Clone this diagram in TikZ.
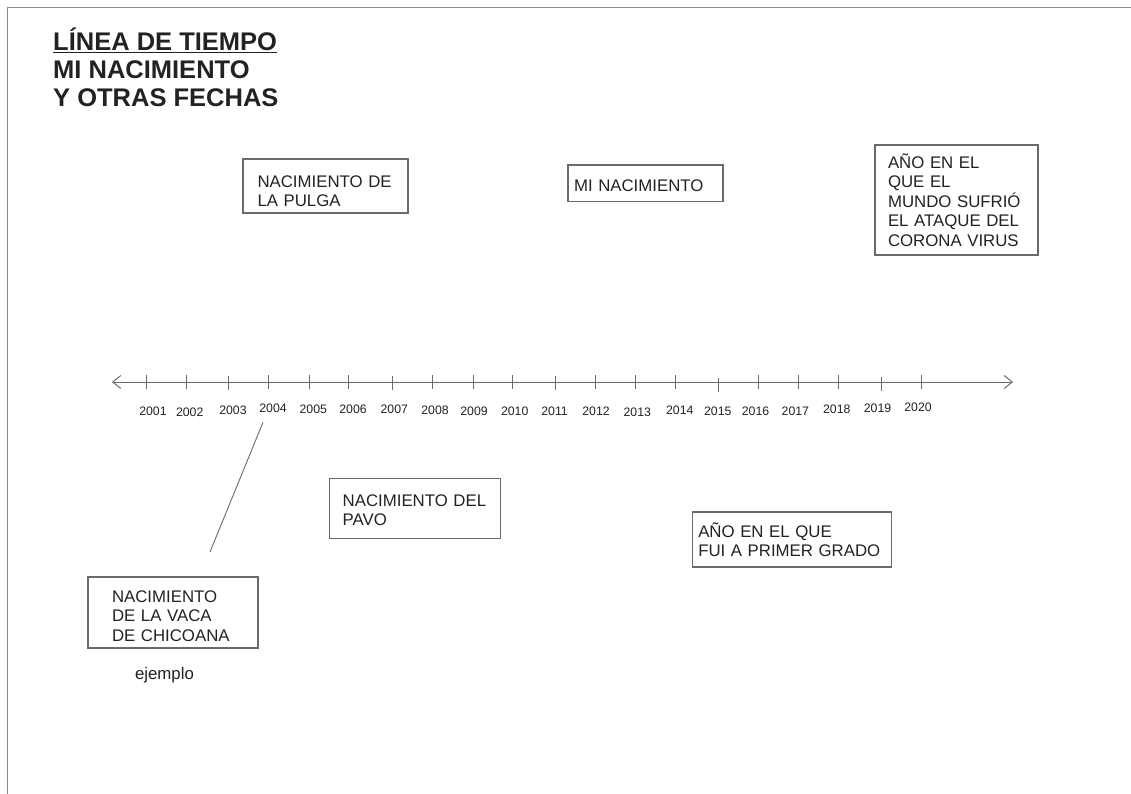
\documentclass[tikz,border=0pt]{standalone}
\usepackage{fontspec}
\setmainfont{Liberation Sans}
\usetikzlibrary{arrows.meta}

\definecolor{tinta}{HTML}{222222}
\definecolor{borde}{HTML}{6A6A6A}
\definecolor{marco}{HTML}{8A8A8A}

\newcommand{\subrayar}[1]{\setbox0=\hbox{#1}\rlap{\rule[-3.4pt]{\wd0}{1.5pt}}\box0}

\tikzset{
  caja/.style={draw=borde, line width=1.1pt, text=tinta, align=left, inner ysep=2pt,
    font=\fontsize{16.8}{19.5}\selectfont},
  bajar/.style={execute at begin node={\rule{0pt}{#1}}},
  anio/.style={text=tinta, inner sep=0pt, font=\fontsize{12.3}{14}\selectfont},
  marca/.style={draw=borde, line width=1pt},
  punta/.tip={Straight Barb[length=8pt,width=13pt]},
}

\begin{document}
\begin{tikzpicture}[x=1pt,y=-1pt]
\useasboundingbox (0,0) rectangle (1131,794);
% borde de la hoja
\draw[marco, line width=1.4pt] (1131,7.5) -- (7.5,7.5) -- (7.5,794);

% titulo (base = ultima linea)
\node (titulo) [anchor=base west, align=left, inner sep=0pt, text=tinta,
  font=\fontsize{25.5}{28.3}\bfseries] at (53,106.7)
  {\subrayar{LÍNEA DE TIEMPO}\\MI NACIMIENTO\\Y OTRAS FECHAS};

% linea de tiempo
\coordinate (ini) at (112,382);
\coordinate (fin) at (1013,382);
\draw[borde, line width=1pt, punta-punta] (ini) -- (fin);

% marcas y anios: x marca / x texto / y texto / bajada
\foreach \x/\xt/\yt/\d/\a in {
  146/153/411.7/0/2001, 186/189.7/412.5/0/2002, 228/233/410/1/2003,
  268/273/408.7/0/2004, 309/313.3/409.5/0/2005, 348/353/409/0/2006,
  392/394.3/408.8/1/2007, 432/435/410/0/2008, 473/474/411/0/2009,
  512/514.7/411/0/2010, 555/554.6/411.5/1/2011, 595/596/411/0/2012,
  635.5/637.3/412.5/0/2013, 675/679.8/410.5/0/2014, 718/717.8/411/3/2015,
  758.5/755.5/411/0/2016, 798/795.4/411.5/0/2017, 838.6/836.8/409/0/2018,
  881/877.5/408/2/2019, 921/918/407/0/2020}
{
  \draw[marca] (\x,375+\d) -- (\x,389+\d);
  \node (y\a) [anio] at (\xt,\yt) {\a};
}

% cajas de arriba
\node (pulga) [caja, bajar=22pt, text width=136pt, inner xsep=14.5pt, minimum height=54pt]
  at (325.5,186) {NACIMIENTO DE\\LA PULGA};
\node (minac) [caja, bajar=16pt, text width=143pt, inner xsep=6pt, minimum height=36.5pt]
  at (645.5,183.25) {MI NACIMIENTO};
\node (corona) [caja, text width=137pt, inner xsep=13pt, minimum height=110pt]
  at (956.5,200) {AÑO EN EL\\QUE EL\\MUNDO SUFRIÓ\\EL ATAQUE DEL\\CORONA VIRUS};

% cajas de abajo
\node (pavo) [caja, bajar=16pt, text width=144pt, inner xsep=13.4pt, minimum height=60pt]
  at (414.7,508.3) {NACIMIENTO DEL\\PAVO};
\node (grado) [caja, text width=188pt, inner xsep=5.6pt, minimum height=55pt]
  at (792.25,539.5) {AÑO EN EL QUE\\FUI A PRIMER GRADO};
\node (vaca) [caja, bajar=19pt, text width=122pt, inner xsep=24pt, minimum height=71pt]
  at (173,612.5) {NACIMIENTO\\DE LA VACA\\DE CHICOANA};
\node (ejemplo) [anchor=base, inner sep=0pt, text=tinta,
  font=\fontsize{16.8}{19.5}\selectfont] at (164.5,679) {ejemplo};

% flecha del ejemplo
\coordinate (libre) at (210,552);
\draw[borde, line width=0.9pt] ([shift={(-10pt,-9pt)}]y2004.south) -- (libre);
\end{tikzpicture}
\end{document}
